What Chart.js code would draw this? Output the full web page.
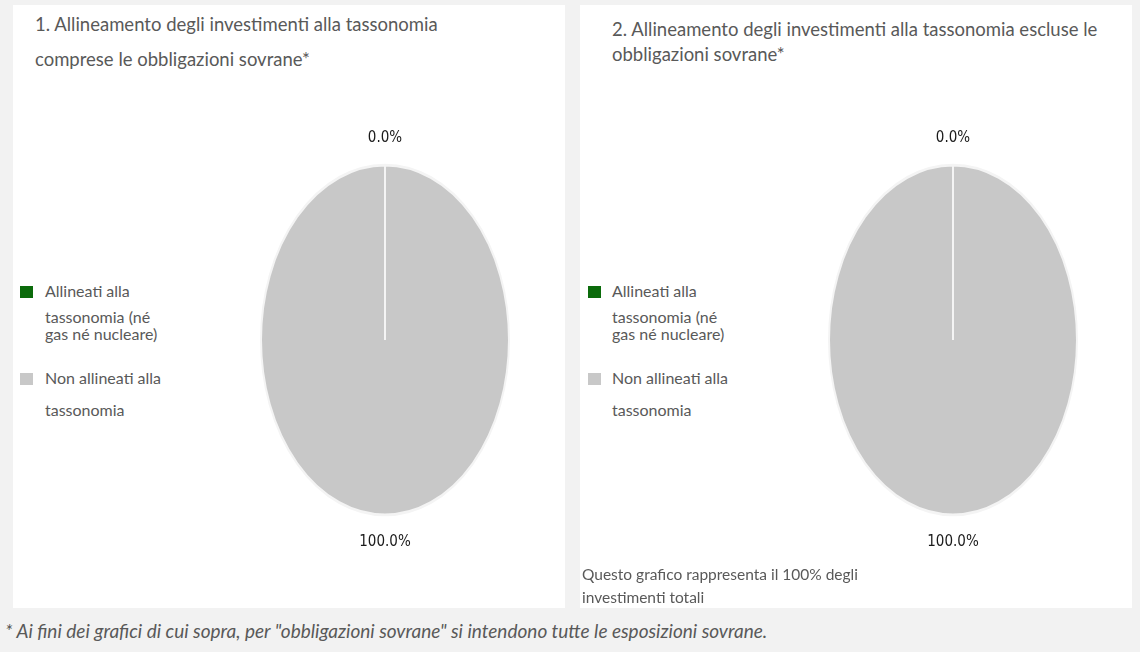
<!DOCTYPE html>
<html lang="it">
<head>
<meta charset="utf-8">
<script src="https://cdn.jsdelivr.net/npm/chart.js@4/dist/chart.umd.min.js"></script>
<style>
    html, body { margin: 0; padding: 0; }
    body {
        width: 1140px;
        height: 652px;
        background: #f2f2f2;
        position: relative;
        overflow: hidden;
        font-family: Lato, "Open Sans", sans-serif;
        color: #595959;
    }
    .panel {
        position: absolute;
        top: 5px;
        width: 552px;
        height: 603px;
        background: #ffffff;
        overflow: hidden;
    }
    .title { position: absolute; font-size: 18.5px; white-space: nowrap; }
    .chart-box { position: absolute; top: 105px; width: 290px; height: 460px; }
    .legend-line { position: absolute; font-size: 16px; line-height: 18px; white-space: nowrap; }
    .legend-box { position: absolute; width: 13px; height: 12px; }
    .note { position: absolute; left: 2px; top: 558px; font-size: 15.5px; line-height: 23px; white-space: nowrap; }
    .footnote {
        position: absolute;
        left: 5px;
        top: 619px;
        font-size: 19px;
        font-style: italic;
        white-space: nowrap;
    }
</style>
</head>
<body>

<div class="panel" id="panel1" style="left:13px">
    <div class="title" style="left:22px; top:2px; line-height:35px">1. Allineamento degli investimenti alla tassonomia<br>comprese le obbligazioni sovrane*</div>
    <div class="legend" id="legend1"></div>
    <div class="chart-box" style="left:227px"><canvas id="chart1"></canvas></div>
</div>

<div class="panel" id="panel2" style="left:580px">
    <div class="title" style="left:32px; top:12px; line-height:25px">2. Allineamento degli investimenti alla tassonomia escluse le<br>obbligazioni sovrane*</div>
    <div class="legend" id="legend2"></div>
    <div class="chart-box" style="left:228px"><canvas id="chart2"></canvas></div>
    <div class="note">Questo grafico rappresenta il 100% degli<br>investimenti totali</div>
</div>

<div class="footnote">* Ai fini dei grafici di cui sopra, per "obbligazioni sovrane" si intendono tutte le esposizioni sovrane.</div>

<script>
// data
const categories = ['Allineati alla tassonomia (né gas né nucleare)', 'Non allineati alla tassonomia'];
const legendLines = [
    ['Allineati alla', 'tassonomia (né', 'gas né nucleare)'],
    ['Non allineati alla', 'tassonomia']
];
const inclSovereign = [0.0, 100.0];
const exclSovereign = [0.0, 100.0];

// styles
const sliceColors = ['#0b6b0b', '#c8c8c8'];
const legendLineTops = [[277, 303, 320], [364, 396]];
const legendBoxTops = [281, 368];
const stretchY = 1.41;

function buildLegend(containerId, boxLeft, textLeft) {
    const el = document.getElementById(containerId);
    legendLines.forEach((lines, i) => {
        const box = document.createElement('div');
        box.className = 'legend-box';
        box.style.left = boxLeft + 'px';
        box.style.top = legendBoxTops[i] + 'px';
        box.style.background = sliceColors[i];
        el.appendChild(box);
        lines.forEach((txt, j) => {
            const line = document.createElement('div');
            line.className = 'legend-line';
            line.style.left = textLeft + 'px';
            line.style.top = legendLineTops[i][j] + 'px';
            line.textContent = txt;
            el.appendChild(line);
        });
    });
}

// squash the round pie into the tall ellipse of the original and put the % labels around it
const ellipsePie = {
    id: 'ellipsePie',
    beforeDatasetsDraw(chart) {
        const arc = chart.getDatasetMeta(0).data[0];
        const ctx = chart.ctx;
        ctx.save();
        ctx.translate(arc.x, arc.y);
        ctx.scale(1, stretchY);
        ctx.translate(-arc.x, -arc.y);
    },
    afterDatasetsDraw(chart) {
        const ctx = chart.ctx;
        ctx.restore();
        const values = chart.data.datasets[0].data;
        ctx.save();
        ctx.font = '15px "Liberation Sans Narrow", "DejaVu Sans Condensed", sans-serif';
        ctx.fillStyle = '#1a1a1a';
        ctx.textAlign = 'center';
        ctx.textBaseline = 'middle';
        chart.getDatasetMeta(0).data.forEach((arc, i) => {
            const mid = (arc.startAngle + arc.endAngle) / 2;
            const r = arc.outerRadius;
            const x = arc.x + Math.cos(mid) * (r + 27);
            const y = arc.y + Math.sin(mid) * (r * stretchY + 27);
            ctx.fillText(values[i].toFixed(1) + '%', x, y);
        });
        ctx.restore();
    }
};

function makeChart(canvasId, values) {
    const ctx = document.getElementById(canvasId).getContext('2d');
    return new Chart(ctx, {
        type: 'pie',
        data: {
            labels: categories,
            datasets: [{
                data: values,
                backgroundColor: sliceColors,
                borderColor: '#f4f4f4',
                borderWidth: 2,
                radius: 124
            }]
        },
        options: {
            responsive: true,
            maintainAspectRatio: false,
            animation: false,
            events: [],
            plugins: {
                legend: { display: false },
                tooltip: { enabled: false }
            }
        },
        plugins: [ellipsePie]
    });
}

buildLegend('legend1', 7, 32);
buildLegend('legend2', 8, 32);
makeChart('chart1', inclSovereign);
makeChart('chart2', exclSovereign);
</script>
</body>
</html>
